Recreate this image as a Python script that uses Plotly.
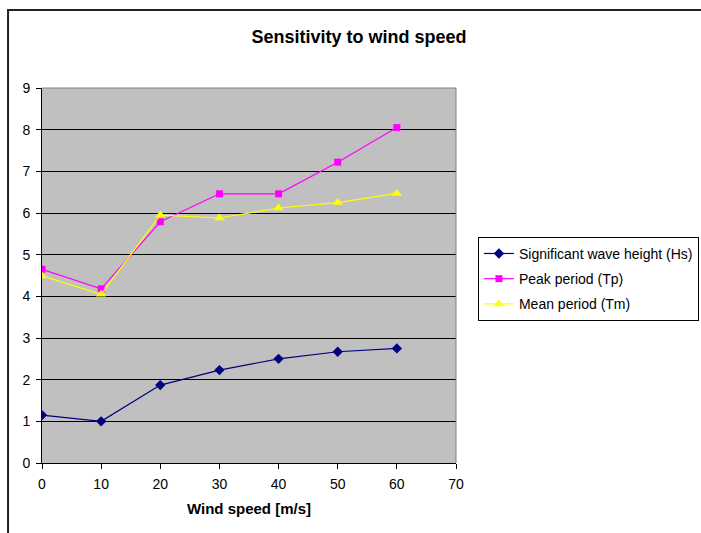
import plotly.graph_objects as go

wind_speed = [0, 10, 20, 30, 40, 50, 60]
hs = [1.15, 1.00, 1.87, 2.23, 2.50, 2.67, 2.75]
tp = [4.65, 4.18, 5.79, 6.46, 6.46, 7.22, 8.05]
tm = [4.49, 4.05, 5.95, 5.88, 6.12, 6.25, 6.47]

series = [
    ("Significant wave height (Hs)", hs, "#000080", "diamond", 8),
    ("Peak period (Tp)", tp, "#FF00FF", "square", 7),
    ("Mean period (Tm)", tm, "#FFFF00", "triangle-up", 9),
]

fig = go.Figure()
for i, (name, vals, color, symbol, size) in enumerate(series):
    fig.add_trace(go.Scatter(
        x=wind_speed, y=vals, name=name, mode="lines+markers",
        legendgroup=str(i),
        line=dict(color=color, width=1.2),
        marker=dict(symbol=symbol, size=size, color=color, line=dict(width=0)),
    ))

font_family = "Liberation Sans, Arial, sans-serif"

fig.update_layout(
    width=701, height=533,
    margin=dict(l=42, r=245, t=88, b=70, autoexpand=False),
    paper_bgcolor="white",
    plot_bgcolor="#C0C0C0",
    font=dict(family=font_family, size=14, color="black"),
    title=dict(text="<b>Sensitivity to wind speed</b>", x=359 / 701, xanchor="center",
               y=1 - 37 / 533, yanchor="middle",
               font=dict(size=18, family=font_family, color="black")),
    showlegend=True,
    legend=dict(x=1.053, y=0.603, xanchor="left", yanchor="top",
                bordercolor="black", borderwidth=1, bgcolor="white",
                tracegroupgap=4, font=dict(size=14, family=font_family)),
    xaxis=dict(range=[0, 70], dtick=10, tick0=0, showgrid=False, zeroline=False,
               showline=True, linecolor="black", linewidth=1,
               ticks="outside", ticklen=5, tickcolor="black",
               tickfont=dict(size=14), ticklabelstandoff=3,
               title=dict(text="<b>Wind speed [m/s]</b>", standoff=12,
                          font=dict(size=15, family=font_family))),
    yaxis=dict(range=[0, 9], dtick=1, tick0=0, showgrid=True, gridcolor="black",
               gridwidth=1, zeroline=False,
               showline=True, linecolor="black", linewidth=1,
               ticks="outside", ticklen=5, tickcolor="black",
               tickfont=dict(size=14), ticklabelstandoff=3),
)

# plot area frame on top and right
fig.add_shape(type="line", xref="paper", yref="paper", x0=0, x1=1, y0=1, y1=1,
              line=dict(color="#808080", width=1))
fig.add_shape(type="line", xref="paper", yref="paper", x0=1, x1=1, y0=0, y1=1,
              line=dict(color="#808080", width=1))

# outer chart border
fig.add_shape(type="rect", xref="paper", yref="paper",
              x0=-0.082, x1=1.8, y0=-0.3, y1=1.208,
              line=dict(color="#222222", width=2), layer="below")

fig.write_html("out.html")
